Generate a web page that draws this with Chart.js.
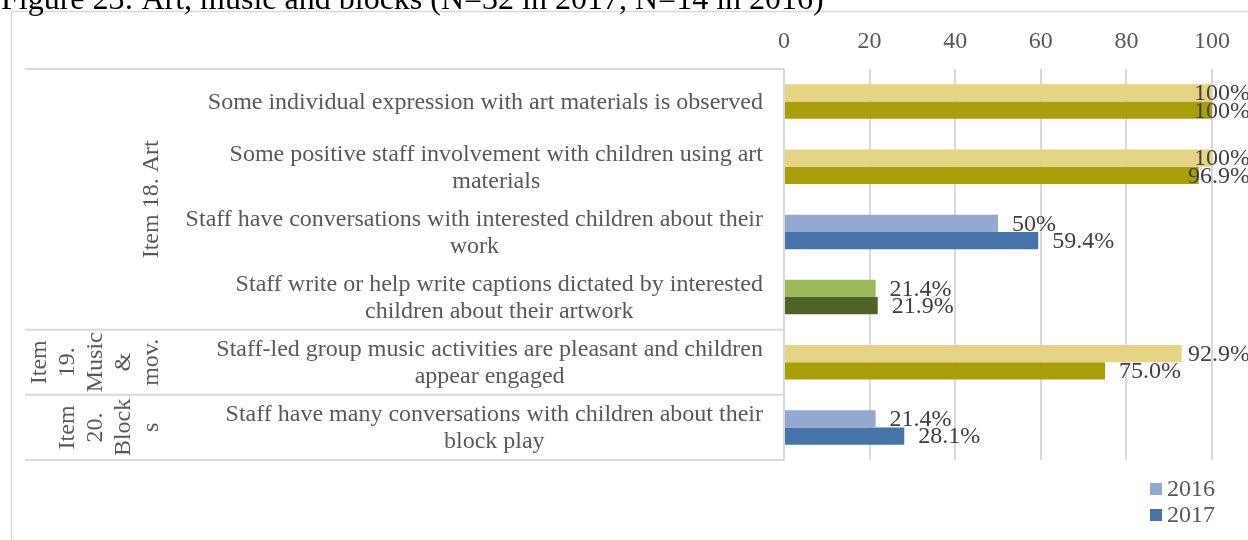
<!DOCTYPE html>
<html>
<head>
<meta charset="utf-8">
<script src="https://cdn.jsdelivr.net/npm/chart.js@4.4.0/dist/chart.umd.min.js"></script>
<style>
  html, body { margin: 0; padding: 0; background: #fff; }
  #wrap { width: 1248px; height: 540px; position: relative; }
</style>
</head>
<body>
<div id="wrap"><canvas id="chart"></canvas></div>
<script>
// --- data ---
var categories = [
  ['Some individual expression with art materials is observed'],
  ['Some positive staff involvement with children using art', 'materials'],
  ['Staff have conversations with interested children about their', 'work'],
  ['Staff write or help write captions dictated by interested', 'children about their artwork'],
  ['Staff-led group music activities are pleasant and children', 'appear engaged'],
  ['Staff have many conversations with children about their', 'block play']
];
var groupLabels = [['Item 18. Art'], ['Item', '19.', 'Music', '&', 'mov.'], ['Item', '20.', 'Block', 's']];
var groupStart = [0, 4, 5];
var groupEnd = [3, 4, 5];

var values2016 = [100, 100, 50, 21.4, 92.9, 21.4];
var values2017 = [100, 96.9, 59.4, 21.9, 75.0, 28.1];
var labels2016 = ['100%', '100%', '50%', '21.4%', '92.9%', '21.4%'];
var labels2017 = ['100%', '96.9%', '59.4%', '21.9%', '75.0%', '28.1%'];
var xTicks = [0, 20, 40, 60, 80, 100];

var titleText = 'Figure 23: Art, music and blocks (N=32 in 2017, N=14 in 2016)';

var colors2016 = ['#E5D483', '#E5D483', '#94A9D0', '#9BBB59', '#E5D483', '#94A9D0'];
var colors2017 = ['#A99F0A', '#A99F0A', '#4674A8', '#4F6228', '#A99F0A', '#4674A8'];

var FONT = "'Liberation Serif', 'Times New Roman', serif";
Chart.defaults.font.family = FONT;

var extras = {
  id: 'extras',
  beforeDraw: function (chart) {
    var ctx = chart.ctx, a = chart.chartArea, ys = chart.scales.y;
    ctx.save();
    ctx.fillStyle = '#fff';
    ctx.fillRect(0, 0, chart.width, chart.height);
    ctx.strokeStyle = '#D9D9D9';
    ctx.lineWidth = 1.5;
    ctx.strokeRect(11.5, 11.5, chart.width + 20, chart.height + 20);

    // table lines on the left
    var half = (ys.getPixelForValue(1) - ys.getPixelForValue(0)) / 2;
    var lines = [a.top];
    groupEnd.forEach(function (e) { lines.push(ys.getPixelForValue(e) + half); });
    ctx.lineWidth = 2;
    lines.forEach(function (yy) {
      ctx.beginPath();
      ctx.moveTo(25, yy);
      ctx.lineTo(a.left, yy);
      ctx.stroke();
    });
    ctx.restore();
  },
  afterDraw: function (chart) {
    var ctx = chart.ctx, a = chart.chartArea, ys = chart.scales.y;
    var half = (ys.getPixelForValue(1) - ys.getPixelForValue(0)) / 2;
    ctx.save();

    // title (cut at top like the source)
    ctx.font = '32px ' + FONT;
    ctx.fillStyle = '#000';
    ctx.textAlign = 'left';
    ctx.textBaseline = 'alphabetic';
    ctx.fillText(titleText, 1, 9);

    // category labels
    ctx.font = '24px ' + FONT;
    ctx.fillStyle = '#595959';
    ctx.textAlign = 'center';
    ctx.textBaseline = 'middle';
    var lh = 27;
    categories.forEach(function (lns, i) {
      var cy = ys.getPixelForValue(i);
      var w = 0;
      lns.forEach(function (t) { w = Math.max(w, ctx.measureText(t).width); });
      var cx = a.left - 21 - w / 2;
      lns.forEach(function (t, j) {
        ctx.fillText(t, cx, cy + (j - (lns.length - 1) / 2) * lh + 1);
      });
    });

    // group labels, rotated
    groupLabels.forEach(function (lns, g) {
      var top = ys.getPixelForValue(groupStart[g]) - half;
      var bot = ys.getPixelForValue(groupEnd[g]) + half;
      var cy = (top + bot) / 2;
      lns.forEach(function (t, j) {
        var x = 152 - (lns.length - 1 - j) * 28;
        ctx.save();
        ctx.translate(x, cy);
        ctx.rotate(-Math.PI / 2);
        ctx.fillText(t, 0, 0);
        ctx.restore();
      });
    });

    // data labels
    ctx.fillStyle = '#404040';
    ctx.textAlign = 'left';
    var lbls = [labels2016, labels2017];
    chart.data.datasets.forEach(function (ds, d) {
      chart.getDatasetMeta(d).data.forEach(function (el, i) {
        var t = lbls[d][i];
        var w = ctx.measureText(t).width;
        var x = Math.min(el.x + 14, chart.width - w + 2);
        ctx.fillText(t, x, el.y + 1);
      });
    });

    // legend
    var items = [['2016', '#94A9D0', 489], ['2017', '#4674A8', 515]];
    items.forEach(function (it) {
      ctx.fillStyle = it[1];
      ctx.fillRect(1150, it[2] - 6, 12, 12);
      ctx.fillStyle = '#595959';
      ctx.fillText(it[0], 1167, it[2] + 1);
    });
    ctx.restore();
  }
};

new Chart(document.getElementById('chart'), {
  type: 'bar',
  data: {
    labels: categories,
    datasets: [
      { label: '2016', data: values2016, backgroundColor: colors2016, categoryPercentage: 0.53, barPercentage: 1 },
      { label: '2017', data: values2017, backgroundColor: colors2017, categoryPercentage: 0.53, barPercentage: 1 }
    ]
  },
  options: {
    indexAxis: 'y',
    responsive: true,
    maintainAspectRatio: false,
    animation: false,
    layout: { padding: { left: 784, right: 36, top: 0, bottom: 80 } },
    plugins: { legend: { display: false }, tooltip: { enabled: false } },
    scales: {
      x: {
        position: 'top',
        min: 0,
        max: 100,
        afterBuildTicks: function (s) { s.ticks = xTicks.map(function (v) { return { value: v }; }); },
        afterFit: function (s) { s.height = 69; },
        ticks: { color: '#595959', font: { size: 24 }, padding: 13 },
        grid: { color: '#D9D9D9', lineWidth: 2, drawTicks: false },
        border: { display: false }
      },
      y: { display: false }
    }
  },
  plugins: [extras]
});
</script>
</body>
</html>
